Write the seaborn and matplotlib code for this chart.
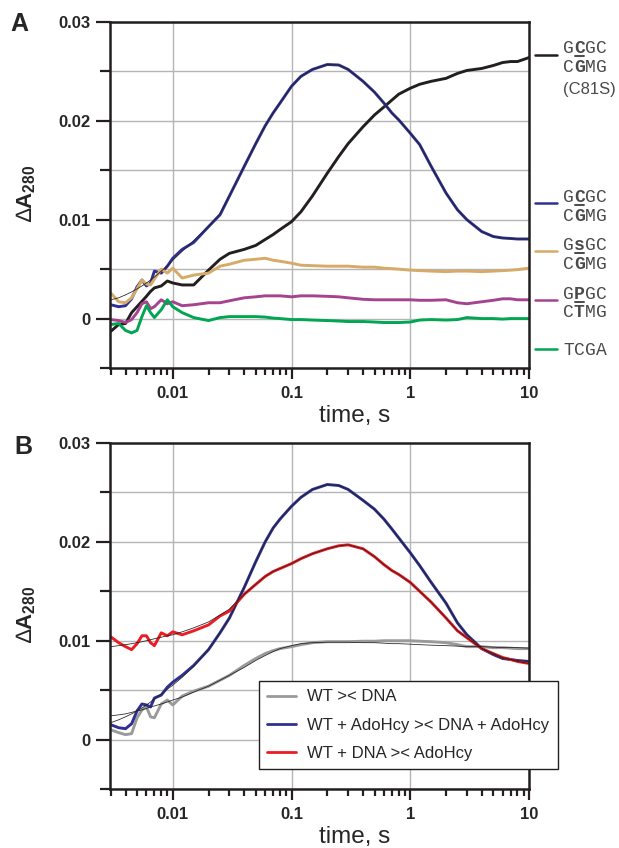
import numpy as np
import pandas as pd
import matplotlib
matplotlib.use('Agg')
import matplotlib.pyplot as plt
import seaborn as sns
from matplotlib.lines import Line2D
from matplotlib.ticker import FixedLocator, LogLocator, NullFormatter

# ---------------- data (ΔA280 in units of 0.001) ----------------
time_s = [0.003, 0.0035, 0.004, 0.0045, 0.005, 0.0055, 0.006, 0.0065, 0.007, 0.008, 0.009,
          0.01, 0.012, 0.015, 0.02, 0.025, 0.03, 0.04, 0.05, 0.06, 0.07, 0.08,
          0.1, 0.12, 0.15, 0.2, 0.25, 0.3, 0.4, 0.5, 0.6, 0.7, 0.8,
          1, 1.2, 1.5, 2, 2.5, 3, 4, 5, 6, 7, 8, 10]

# Panel A
a_c81s = [-1.3, -0.6, -0.5, 0.6, 1.2, 1.75, 2.25, 2.75, 3.1, 3.3, 3.8,
          3.6, 3.4, 3.4, 4.9, 6.0, 6.6, 7.0, 7.4, 8.0, 8.5, 9.0,
          9.8, 10.8, 12.4, 14.7, 16.4, 17.7, 19.4, 20.6, 21.4, 22.1, 22.7,
          23.3, 23.7, 24.0, 24.3, 24.8, 25.1, 25.3, 25.6, 25.9, 26.0, 26.0, 26.4]
a_gcgc = [1.4, 1.2, 1.3, 2.0, 3.2, 3.9, 3.3, 3.6, 4.8, 4.6, 5.3,
          6.1, 7.0, 7.7, 9.3, 10.5, 12.4, 15.4, 17.7, 19.5, 20.8, 21.8,
          23.5, 24.5, 25.2, 25.7, 25.65, 25.2, 24.0, 22.9, 21.8, 20.8, 20.1,
          18.75, 17.6, 15.4, 12.7, 11.0, 10.0, 8.8, 8.3, 8.15, 8.1, 8.05, 8.05]
a_gcgc_fit = [1.9, 2.1, 2.4, 2.7, 3.0, 3.3, 3.6, 3.9, 4.2, 4.8, 5.3,
              5.9, 6.8, 7.9, 9.3, 10.6, 12.4, 15.4, 17.7, 19.5, 20.8, 21.8,
              23.5, 24.5, 25.2, 25.7, 25.65, 25.2, 24.0, 22.9, 21.8, 20.8, 20.1,
              18.75, 17.6, 15.4, 12.7, 11.0, 10.0, 8.8, 8.3, 8.15, 8.1, 8.05, 8.05]
a_gsgc = [2.6, 1.7, 1.6, 2.1, 3.0, 3.9, 3.5, 3.4, 4.0, 5.0, 4.6,
          5.1, 4.1, 4.4, 4.6, 5.3, 5.5, 5.9, 6.0, 6.1, 5.9, 5.8,
          5.6, 5.4, 5.35, 5.3, 5.3, 5.3, 5.2, 5.2, 5.1, 5.05, 5.0,
          4.9, 4.85, 4.8, 4.75, 4.8, 4.8, 4.75, 4.8, 4.85, 4.9, 4.95, 5.1]
a_gpgc = [-0.1, -0.2, -0.4, -0.1, 0.6, 1.5, 1.7, 1.0, 1.2, 1.9, 1.5,
          1.7, 1.3, 1.4, 1.6, 1.6, 1.8, 2.1, 2.2, 2.3, 2.3, 2.3,
          2.2, 2.3, 2.3, 2.25, 2.2, 2.1, 1.95, 1.9, 1.9, 1.9, 1.9,
          1.9, 1.85, 1.85, 1.9, 1.6, 1.5, 1.7, 1.85, 2.0, 2.0, 1.9, 1.9]
a_tcga = [-0.6, -0.5, -1.2, -1.45, -1.2, 0.2, 1.3, 0.6, 0.1, 0.9, 1.9,
          1.2, 0.6, 0.1, -0.2, 0.1, 0.2, 0.2, 0.2, 0.15, 0.05, 0.0,
          -0.1, -0.1, -0.15, -0.2, -0.25, -0.3, -0.3, -0.35, -0.4, -0.4, -0.4,
          -0.35, -0.15, -0.1, -0.15, -0.1, 0.1, 0.0, 0.0, -0.05, 0.0, 0.0, 0.0]

# Panel B
b_wt_dna = [1.0, 0.7, 0.5, 0.6, 2.2, 3.0, 3.3, 2.3, 2.2, 3.6, 4.0,
            3.5, 4.4, 4.9, 5.4, 6.0, 6.5, 7.5, 8.2, 8.7, 9.0, 9.2,
            9.4, 9.6, 9.8, 9.9, 9.9, 9.9, 9.95, 9.95, 10.0, 10.0, 10.0,
            10.0, 9.95, 9.9, 9.8, 9.6, 9.4, 9.4, 9.3, 9.3, 9.25, 9.2, 9.2]
b_wt_dna_fit = [2.4, 2.5, 2.6, 2.75, 2.9, 3.0, 3.15, 3.3, 3.4, 3.6, 3.8,
                4.0, 4.3, 4.8, 5.4, 6.0, 6.5, 7.3, 8.0, 8.5, 8.9, 9.2,
                9.5, 9.7, 9.8, 9.85, 9.85, 9.85, 9.8, 9.8, 9.75, 9.7, 9.7,
                9.65, 9.6, 9.55, 9.5, 9.45, 9.4, 9.4, 9.35, 9.3, 9.3, 9.3, 9.25]
b_adohcy_both = [1.5, 1.2, 1.1, 1.6, 2.9, 3.6, 3.5, 3.3, 4.2, 4.5, 5.3,
                 5.8, 6.5, 7.5, 9.1, 10.8, 12.3, 15.4, 18.0, 20.0, 21.4, 22.3,
                 23.6, 24.5, 25.3, 25.8, 25.7, 25.3, 24.2, 23.3, 22.3, 21.3, 20.4,
                 18.9, 17.6, 15.9, 13.8, 11.8, 10.6, 9.2, 8.6, 8.2, 8.1, 8.0, 7.9]
b_adohcy_both_fit = [1.7, 2.0, 2.3, 2.6, 2.9, 3.2, 3.5, 3.8, 4.1, 4.6, 5.1,
                     5.5, 6.3, 7.4, 9.1, 10.8, 12.3, 15.4, 18.0, 20.0, 21.4, 22.3,
                     23.6, 24.5, 25.3, 25.8, 25.7, 25.3, 24.2, 23.3, 22.3, 21.3, 20.4,
                     18.9, 17.6, 15.9, 13.8, 11.8, 10.6, 9.2, 8.6, 8.2, 8.1, 8.0, 7.9]
b_dna_first = [10.4, 9.8, 9.4, 9.1, 9.7, 10.5, 10.5, 9.8, 9.5, 10.8, 10.5,
               10.9, 10.6, 11.0, 11.6, 12.5, 13.0, 14.7, 15.7, 16.5, 17.0, 17.3,
               17.8, 18.3, 18.8, 19.3, 19.6, 19.7, 19.3, 18.5, 17.7, 17.1, 16.7,
               15.9, 15.0, 13.9, 12.3, 11.0, 10.3, 9.2, 8.7, 8.3, 8.1, 7.9, 7.7]
b_dna_first_fit = [9.4, 9.5, 9.6, 9.7, 9.8, 9.9, 10.0, 10.1, 10.2, 10.35, 10.5,
                   10.6, 10.9, 11.3, 11.9, 12.6, 13.2, 14.7, 15.7, 16.5, 17.0, 17.3,
                   17.8, 18.3, 18.8, 19.3, 19.6, 19.7, 19.3, 18.5, 17.7, 17.1, 16.7,
                   15.9, 15.0, 13.9, 12.3, 11.0, 10.3, 9.2, 8.7, 8.3, 8.1, 7.9, 7.7]

legend_b = ['WT >< DNA', 'WT + AdoHcy >< DNA + AdoHcy', 'WT + DNA >< AdoHcy']

x_ticks = [0.01, 0.1, 1, 10]
x_ticklabels = ['0.01', '0.1', '1', '10']
y_ticks = [0, 0.01, 0.02, 0.03]
y_ticklabels = ['0', '0.01', '0.02', '0.03']
y_minor = [-0.005, 0.005, 0.015, 0.025]

# ---------------- style ----------------
sns.set_theme(style='white')
plt.rcParams['font.family'] = ['Liberation Sans', 'DejaVu Sans']
plt.rcParams['mathtext.fontset'] = 'custom'
plt.rcParams['mathtext.rm'] = 'Liberation Sans'
plt.rcParams['mathtext.bf'] = 'Liberation Sans:bold'

BLUE = '#2e3192'
TAN = '#d6aa68'
MAG = '#a5438f'
GREEN = '#00a651'
BLACK = '#231f20'
RED = '#ed1c24'
GRAY = '#9a9a9a'
TXT = '#4a4a4a'

W, H = 619, 848
fig = plt.figure(figsize=(W / 100, H / 100), dpi=100)


def rect(l, t, r, b):
    return [l / W, 1 - b / H, (r - l) / W, (b - t) / H]


axA = fig.add_axes(rect(110, 22, 529, 368))
axB = fig.add_axes(rect(110, 443, 529, 789))


def long_df(series):
    frames = []
    for name, vals in series.items():
        frames.append(pd.DataFrame({'time': time_s,
                                    'dA': np.asarray(vals) * 1e-3,
                                    'series': name}))
    return pd.concat(frames, ignore_index=True)


DATA_LW = 2.1
FIT_LW = 0.55

dfA = long_df({'C81S': a_c81s, 'GCGC': a_gcgc, 'GsGC': a_gsgc,
               'GPGC': a_gpgc, 'TCGA': a_tcga})
palA = {'C81S': BLACK, 'GCGC': BLUE, 'GsGC': TAN, 'GPGC': MAG, 'TCGA': GREEN}
sns.lineplot(data=dfA, x='time', y='dA', hue='series', palette=palA,
             estimator=None, sort=False, lw=DATA_LW, legend=False, ax=axA)
sns.lineplot(x=time_s, y=np.asarray(a_gcgc_fit) * 1e-3, color=BLACK, lw=FIT_LW,
             estimator=None, sort=False, ax=axA)

dfB = long_df({legend_b[0]: b_wt_dna, legend_b[1]: b_adohcy_both,
               legend_b[2]: b_dna_first})
palB = {legend_b[0]: GRAY, legend_b[1]: BLUE, legend_b[2]: RED}
sns.lineplot(data=dfB, x='time', y='dA', hue='series', palette=palB,
             estimator=None, sort=False, lw=DATA_LW, legend=False, ax=axB)
for fit in (b_wt_dna_fit, b_adohcy_both_fit, b_dna_first_fit):
    sns.lineplot(x=time_s, y=np.asarray(fit) * 1e-3, color=BLACK, lw=FIT_LW,
                 estimator=None, sort=False, ax=axB)


def style(ax):
    ax.set_xscale('log')
    ax.set_xlim(0.00296, 10)
    ax.set_ylim(-0.005, 0.03)
    ax.set_xticks(x_ticks, labels=x_ticklabels, fontweight='bold', fontsize=12)
    ax.xaxis.set_minor_locator(LogLocator(base=10, subs=np.arange(2, 10) * 1.0, numticks=30))
    ax.xaxis.set_minor_formatter(NullFormatter())
    ax.set_yticks(y_ticks, labels=y_ticklabels, fontweight='bold', fontsize=12)
    ax.yaxis.set_minor_locator(FixedLocator(y_minor))
    ax.grid(False)
    ax.grid(True, which='major', axis='x', color='#b5b5b5', lw=1.0)
    ax.grid(True, which='both', axis='y', color='#b5b5b5', lw=1.0)
    ax.set_axisbelow(True)
    for s in ax.spines.values():
        s.set_visible(True)
        s.set_color(BLACK)
        s.set_linewidth(1.8)
    ax.tick_params(axis='x', which='major', direction='out', length=8, width=1.6,
                   color=BLACK, pad=5, bottom=True)
    ax.tick_params(axis='x', which='minor', direction='out', length=5, width=1.6,
                   color=BLACK, bottom=True)
    ax.tick_params(axis='y', which='major', direction='out', length=10, width=1.6,
                   color=BLACK, pad=4, left=True)
    ax.tick_params(axis='y', which='minor', direction='out', length=7, width=1.6,
                   color=BLACK, left=True)
    ax.set_xlabel('time, s', fontsize=17.5)
    ax.xaxis.label.set_va('center')
    ax.xaxis.set_label_coords(0.585, -0.14)
    ax.set_ylabel('∆' + r'$\mathbf{A}_{\mathbf{280}}$', fontsize=16)
    ax.yaxis.label.set_va('center')
    ax.yaxis.set_label_coords(-0.2, 0.505)


style(axA)
style(axB)

# legend B
handles = [Line2D([], [], color=c, lw=2.0) for c in (GRAY, BLUE, RED)]
leg = axB.legend(handles, legend_b, loc='upper left',
                 bbox_to_anchor=((259 - 110) / 419, (789 - 681) / 346),
                 borderaxespad=0, frameon=True, fancybox=False, framealpha=1,
                 edgecolor=BLACK, fontsize=12, handlelength=1.7,
                 handletextpad=0.7, labelspacing=0.8, borderpad=0.5)
leg.get_frame().set_linewidth(1.0)
leg.set_zorder(10)

# panel letters
fig.text(19.5 / W, 1 - 24 / H, 'A', fontsize=18, fontweight='bold', ha='center', va='center')
fig.text(23 / W, 1 - 447 / H, 'B', fontsize=18, fontweight='bold', ha='center', va='center')

# right-side sequence labels for panel A
SIZE = 13
CW = 0.6 * SIZE * 100 / 72


def seq_text(x_px, y_px, text, bold=(), underline=()):
    for i, ch in enumerate(text):
        cx = x_px + (i + 0.5) * CW
        fig.text(cx / W, 1 - (y_px + 6) / H, ch, ha='center', va='baseline',
                 family=['Liberation Mono', 'DejaVu Sans Mono'], fontsize=SIZE,
                 fontweight='bold' if i in bold else 'normal', color=TXT)
        if i in underline:
            fig.add_artist(Line2D([(cx - CW * 0.42) / W, (cx + CW * 0.42) / W],
                                  [1 - (y_px + 8.5) / H] * 2, color=TXT, lw=1.4))


def key_line(y_px, color):
    fig.add_artist(Line2D([535 / W, 557 / W], [1 - y_px / H] * 2, color=color, lw=1.8))


X0 = 563
key_line(55, BLACK)
seq_text(X0, 47, 'GCGC', bold=(1,), underline=(1,))
seq_text(X0, 66, 'CGMG', bold=(1,))
fig.text(X0 / W, 1 - (88 + 6) / H, '(C81S)', ha='left', va='baseline',
         fontsize=12, color=TXT)

key_line(203, BLUE)
seq_text(X0, 196, 'GCGC', bold=(1,), underline=(1,))
seq_text(X0, 215, 'CGMG', bold=(1,))

key_line(251, TAN)
seq_text(X0, 244, 'GsGC', bold=(1,), underline=(1,))
seq_text(X0, 263, 'CGMG', bold=(1,))

key_line(300, MAG)
seq_text(X0, 293, 'GPGC', bold=(1,), underline=(1,))
seq_text(X0, 311, 'CTMG', bold=(1,))

key_line(349, GREEN)
seq_text(X0, 349, 'TCGA')

fig.savefig('out.png', dpi=100)
